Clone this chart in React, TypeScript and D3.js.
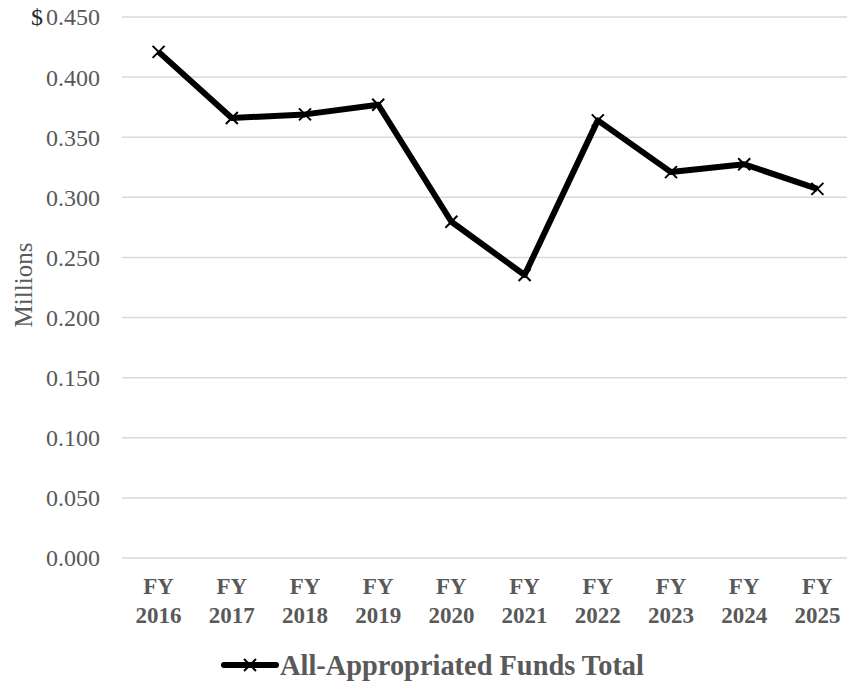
import React from "react";
import * as d3 from "d3";

const categories = ["2016", "2017", "2018", "2019", "2020", "2021", "2022", "2023", "2024", "2025"];
const values = [0.421, 0.366, 0.369, 0.377, 0.2797, 0.2354, 0.364, 0.321, 0.3275, 0.307];
const yTicks = [0, 0.05, 0.1, 0.15, 0.2, 0.25, 0.3, 0.35, 0.4, 0.45];
const seriesName = "All-Appropriated Funds Total";

const W = 847;
const H = 683;
const FONT = "'Liberation Serif', 'Times New Roman', serif";
const TXT = "#595959";

export default function App() {
  const x = d3.scaleBand<string>().domain(categories).range([122, 854]);
  const cx = (c: string) => (x(c) as number) + x.bandwidth() / 2;
  const y = d3.scaleLinear().domain([0, 0.45]).range([558, 17]);
  const line = d3
    .line<number>()
    .x((_, i) => cx(categories[i]))
    .y((d) => y(d));
  const fmt = d3.format(".3f");
  const m = 6;
  const cross = (px: number, py: number, k: string) => (
    <path
      key={k}
      d={`M${px - m},${py - m}L${px + m},${py + m}M${px - m},${py + m}L${px + m},${py - m}`}
      stroke="#000"
      strokeWidth={2}
    />
  );
  return (
    <svg
      width={W}
      height={H}
      style={{ position: "fixed", left: 0, top: 0, background: "#fff" }}
      fontFamily={FONT}
    >
      {yTicks.map((t) => (
        <g key={t}>
          <line x1={122} x2={W} y1={y(t)} y2={y(t)} stroke="#d9d9d9" strokeWidth={1.5} />
          <text x={100} y={y(t)} dy="0.35em" textAnchor="end" fontSize={24} fill={TXT}>
            {fmt(t)}
          </text>
        </g>
      ))}
      <text x={31} y={y(0.45)} dy="0.35em" fontSize={24} fill="#262626">
        $
      </text>
      <text
        transform={`translate(32,285) rotate(-90)`}
        textAnchor="middle"
        fontSize={25}
        fill={TXT}
      >
        Millions
      </text>
      {categories.map((c) => (
        <text key={c} textAnchor="middle" fontSize={23} fontWeight="bold" fill={TXT}>
          <tspan x={cx(c)} y={594}>FY</tspan>
          <tspan x={cx(c)} y={623}>{c}</tspan>
        </text>
      ))}
      <path d={line(values) || ""} fill="none" stroke="#000" strokeWidth={6} strokeLinejoin="round" />
      {values.map((v, i) => cross(cx(categories[i]), y(v), "p" + i))}
      <line x1={224} x2={276} y1={665} y2={665} stroke="#000" strokeWidth={6} strokeLinecap="round" />
      {cross(250, 665, "leg")}
      <text x={280} y={675} fontSize={28.4} fontWeight="bold" fill={TXT}>
        {seriesName}
      </text>
    </svg>
  );
}
